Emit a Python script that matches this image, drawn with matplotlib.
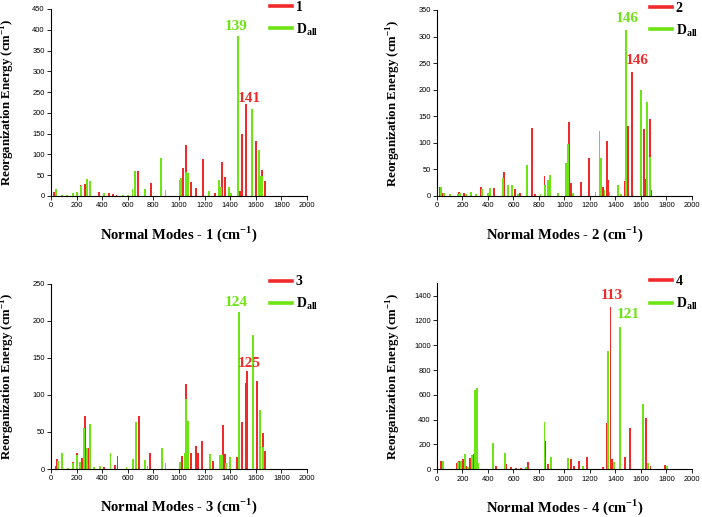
import matplotlib
matplotlib.use("Agg")
from matplotlib import pyplot as plt

plt.rcParams['font.family'] = ['Liberation Serif', 'DejaVu Serif']
plt.rcParams['mathtext.fontset'] = 'custom'
plt.rcParams['mathtext.rm'] = 'Liberation Serif'
plt.rcParams['mathtext.bf'] = 'Liberation Serif:bold'

RED = '#f02a2a'
GREEN = '#6ee414'

# ---- data (frequency cm-1, reorganization energy cm-1) ----
red_x1 = [26, 231, 265, 377, 450, 486, 512, 681, 778, 1032, 1053, 1092, 1136, 1189, 1280, 1339, 1357,
          1480, 1493, 1524, 1605, 1651, 1670]
red_y1 = [10, 27, 28, 10, 7, 4, 3, 61, 32, 67, 122, 34, 20, 90, 8, 82, 46, 13, 149, 221, 132, 63, 36]
green_x1 = [39, 83, 122, 169, 205, 234, 278, 304, 416, 564, 603, 637, 660, 733, 863, 895, 1006, 1019,
            1058, 1071, 1235, 1313, 1331, 1391, 1404, 1461, 1573, 1625, 1636, 1649]
green_y1 = [17, 3, 3, 7, 10, 24, 41, 35, 7, 3, 3, 18, 59, 17, 91, 15, 39, 44, 57, 55, 13, 38, 22, 22, 8,
            386, 210, 110, 48, 47]

red_x2 = [26, 45, 175, 215, 346, 450, 529, 615, 654, 743, 770, 843, 1037, 1052, 1131, 1189, 1288, 1301,
          1330, 1340, 1476, 1497, 1529, 1623, 1639, 1673, 1681]
red_y2 = [16, 6, 8, 6, 17, 15, 46, 13, 5, 127, 4, 37, 140, 24, 27, 72, 46, 17, 103, 30, 29, 131, 234,
          126, 32, 144, 12]
green_x2 = [31, 52, 99, 162, 181, 228, 267, 306, 351, 398, 419, 516, 555, 589, 634, 704, 812, 848, 874,
            890, 948, 1013, 1026, 1065, 1243, 1275, 1285, 1314, 1353, 1419, 1445, 1484, 1599, 1649, 1668]
green_y2 = [17, 6, 4, 3, 6, 3, 7, 4, 14, 5, 15, 33, 20, 21, 4, 59, 3, 20, 31, 40, 6, 62, 97, 6, 8, 123,
            72, 12, 7, 21, 3, 312, 200, 176, 73]

red_x3 = [36, 49, 174, 200, 239, 265, 291, 416, 499, 520, 689, 777, 1027, 1058, 1092, 1136, 1149, 1183,
          1266, 1344, 1357, 1456, 1495, 1521, 1529, 1612, 1657, 1675]
red_y3 = [4, 13, 9, 21, 15, 71, 28, 3, 6, 17, 72, 22, 17, 115, 22, 31, 21, 38, 11, 59, 20, 16, 64, 116,
          132, 119, 48, 24]
green_x3 = [57, 83, 135, 169, 200, 226, 257, 283, 304, 335, 382, 465, 590, 642, 665, 736, 754, 866, 895,
            1006, 1050, 1055, 1071, 1240, 1318, 1336, 1370, 1396, 1469, 1581, 1630, 1657]
green_y3 = [11, 21, 2, 8, 19, 10, 55, 28, 61, 3, 4, 21, 3, 13, 64, 12, 4, 28, 8, 9, 21, 94, 65, 20, 19,
            19, 8, 16, 212, 181, 79, 30]

red_x4 = [31, 157, 175, 202, 228, 262, 288, 463, 542, 581, 620, 660, 712, 851, 869, 1052, 1073, 1117,
          1178, 1301, 1332, 1361, 1372, 1476, 1516, 1641, 1675, 1785]
red_y4 = [65, 50, 63, 82, 30, 90, 125, 25, 40, 15, 10, 12, 58, 230, 45, 82, 30, 65, 97, 22, 375, 1310,
          85, 97, 333, 412, 30, 38]
green_x4 = [44, 105, 167, 188, 220, 241, 272, 301, 312, 325, 437, 534, 699, 843, 895, 1031, 1144, 1340,
            1392, 1432, 1618, 1654, 1801]
green_y4 = [65, 5, 55, 65, 120, 15, 115, 640, 655, 50, 210, 135, 15, 380, 100, 90, 25, 955, 60, 1145,
            530, 50, 30]

series_names = ['1', '2', '3', '4']
y_limits = [450, 350, 250, 1500]
y_tick_tops = [450, 350, 250, 1400]
y_steps = [50, 50, 50, 200]
# (text, colour key, x, y) peak labels
peak_labels = [
    [('139', 'g', 1450, 409), ('141', 'r', 1547, 235)],
    [('146', 'g', 1489, 334), ('146', 'r', 1571, 255)],
    [('124', 'g', 1449, 225), ('125', 'r', 1547, 142)],
    [('113', 'r', 1374, 1403), ('121', 'g', 1497, 1247)],
]

data = [(red_x1, red_y1, green_x1, green_y1),
        (red_x2, red_y2, green_x2, green_y2),
        (red_x3, red_y3, green_x3, green_y3),
        (red_x4, red_y4, green_x4, green_y4)]

fig = plt.figure(figsize=(7.02, 5.17), dpi=100)
positions = [[0.0726, 0.6209, 0.3647, 0.3617],
             [0.6225, 0.6209, 0.3632, 0.3598],
             [0.0726, 0.0928, 0.3647, 0.3584],
             [0.6225, 0.0923, 0.3632, 0.3598]]
legend_x = [0.855, 0.835, 0.855, 0.835]

for i in range(4):
    ax = fig.add_axes(positions[i])
    rx, ry, gx, gy = data[i]
    ax.bar(rx, ry, width=15, color=RED, linewidth=0)
    ax.bar(gx, gy, width=15, color=GREEN, linewidth=0)
    ax.set_xlim(0, 2000)
    ax.set_ylim(0, y_limits[i])
    ax.set_xticks(range(0, 2001, 200))
    ax.set_yticks(range(0, y_tick_tops[i] + 1, y_steps[i]))
    for s in ['top', 'right']:
        ax.spines[s].set_visible(False)
    for s in ['left', 'bottom']:
        ax.spines[s].set_linewidth(0.8)
    ax.tick_params(direction='out', length=3, width=0.6, labelsize=5.4, pad=1.5)
    for lab in ax.get_xticklabels() + ax.get_yticklabels():
        lab.set_family('Liberation Sans')
    ax.set_xlabel('Normal Modes - %s (cm$^{\\mathbf{-1}}$)' % series_names[i], fontsize=10.5,
                  fontweight='bold')
    ax.set_ylabel('Reorganization Energy (cm$^{\\mathbf{-1}}$)', fontsize=9.3, fontweight='bold')
    ax.xaxis.set_label_coords(0.5, -0.15)
    ax.yaxis.set_label_coords(-0.133, 0.5)
    for txt, c, x, y in peak_labels[i]:
        ax.text(x, y, txt, color=GREEN if c == 'g' else RED, ha='center', va='center',
                fontsize=11, fontweight='bold')
    lines = [plt.Line2D([], [], color=RED, lw=2.6), plt.Line2D([], [], color=GREEN, lw=2.6)]
    ax.legend(lines, [series_names[i], r'D$_{\mathbf{all}}$'], loc='upper left',
              bbox_to_anchor=(legend_x[i], 1.045), frameon=False,
              borderpad=0, borderaxespad=0, handlelength=1.6, handletextpad=0.25,
              labelspacing=0.55, prop={'family': 'Liberation Serif', 'weight': 'bold', 'size': 10})

fig.savefig('out.png', dpi=100)
